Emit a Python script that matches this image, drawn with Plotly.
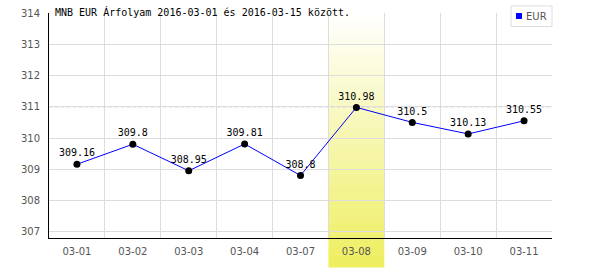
import plotly.graph_objects as go

dates = ["03-01", "03-02", "03-03", "03-04", "03-07", "03-08", "03-09", "03-10", "03-11"]
rates = [309.16, 309.8, 308.95, 309.81, 308.8, 310.98, 310.5, 310.13, 310.55]
labels = ["309.16", "309.8", "308.95", "309.81", "308.8", "310.98", "310.5", "310.13", "310.55"]
highlight = "03-08"
ref_level = 311
y_ticks = [307, 308, 309, 310, 311, 312, 313, 314]
series_name = "EUR"

W, H = 600, 270
ML, MR, MT, MB = 49, 48, 13, 32
PW, PH = W - ML - MR, H - MT - MB


def px(xp):
    return (xp - ML) / PW


def py(yp):
    return (H - MB - yp) / PH


fig = go.Figure()

# gradient highlight band
n = 60
top, bottom = 1.0, py(267)
hi = dates.index(highlight)
for i in range(n):
    t0 = i / n
    t1 = (i + 1) / n
    tm = (t0 + t1) / 2
    r = round(255 - (255 - 238) * tm)
    g = round(255 - (255 - 238) * tm)
    b = round(255 - (255 - 95) * tm)
    fig.add_shape(type="rect", xref="x", yref="paper",
                  x0=hi - 0.5, x1=hi + 0.5,
                  y0=top - (top - bottom) * t0, y1=top - (top - bottom) * t1 - 0.002,
                  fillcolor=f"rgb({r},{g},{b})", line=dict(width=0), layer="between")

fig.add_shape(type="line", xref="paper", yref="y", x0=0, x1=1, y0=ref_level, y1=ref_level,
              line=dict(color="rgb(160,160,215)", width=1, dash="3px,3px"), layer="between")

fig.add_trace(go.Scatter(
    x=dates, y=rates, mode="lines+markers+text",
    text=labels, textposition="top center",
    textfont=dict(family="DejaVu Sans Mono", size=10, color="black"),
    line=dict(color="blue", width=1),
    marker=dict(color="black", size=7),
    showlegend=False, cliponaxis=False,
))

# legend box (manual)
fig.add_shape(type="rect", xref="paper", yref="paper",
              x0=px(511), x1=px(552), y0=py(26.5), y1=py(6),
              fillcolor="white", line=dict(color="#dddddd", width=1), layer="above")
fig.add_shape(type="rect", xref="paper", yref="paper",
              x0=px(516), x1=px(522), y0=py(19), y1=py(13),
              fillcolor="blue", line=dict(width=0), layer="above")
fig.add_annotation(text=series_name, xref="paper", yref="paper",
                   x=px(523.5), y=py(16.5), xanchor="left", yanchor="middle",
                   showarrow=False,
                   font=dict(family="DejaVu Sans", size=10, color="#555"))

fig.add_annotation(text="MNB EUR Árfolyam 2016-03-01 és 2016-03-15 között.",
                   xref="paper", yref="paper", x=px(53), y=py(12),
                   xanchor="left", yanchor="middle", showarrow=False,
                   font=dict(family="DejaVu Sans Mono", size=10, color="black"))

fig.update_layout(
    width=W, height=H,
    margin=dict(l=ML, r=MR, t=MT, b=MB, autoexpand=False),
    paper_bgcolor="white", plot_bgcolor="white",
    showlegend=False,
    xaxis=dict(type="category", categoryorder="array", categoryarray=dates,
               range=[-0.5, len(dates) - 0.5], tickson="boundaries",
               showgrid=True, gridcolor="#dddddd", gridwidth=1,
               showline=True, linecolor="black", linewidth=1,
               ticks="", ticklabelstandoff=4,
               tickfont=dict(family="DejaVu Sans", size=10, color="#555")),
    yaxis=dict(range=[306.8, 314.0], tickvals=y_ticks,
               showgrid=True, gridcolor="#dddddd", gridwidth=1,
               showline=True, linecolor="black", linewidth=1,
               zeroline=False, ticks="", ticklabelstandoff=6,
               tickfont=dict(family="DejaVu Sans", size=10, color="#555")),
)

fig.write_html("out.html")
